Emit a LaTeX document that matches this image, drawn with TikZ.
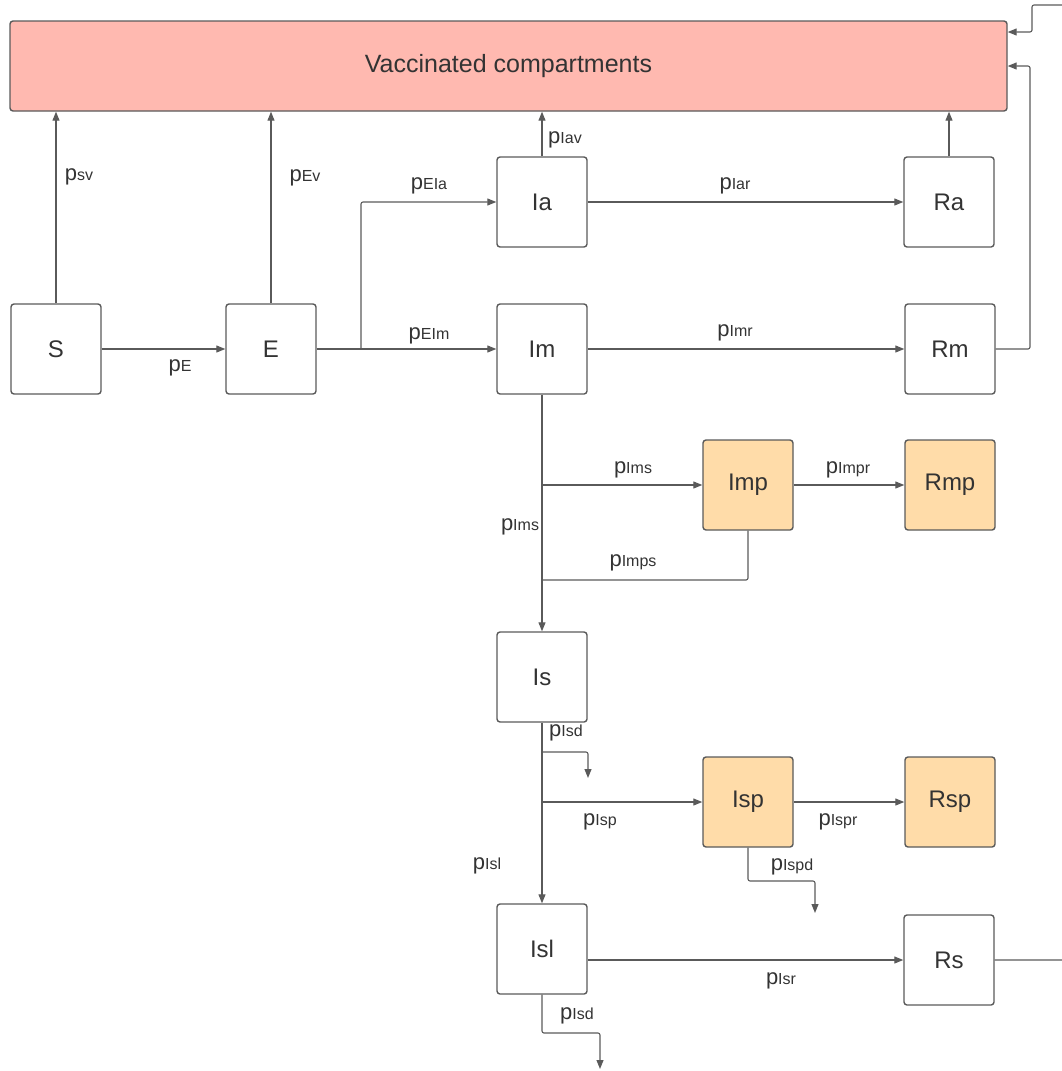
\documentclass[tikz,border=0pt]{standalone}
\usepackage{fontspec}
\setmainfont{Liberation Sans}
\usetikzlibrary{arrows.meta}
\definecolor{vacfill}{HTML}{FFB9B0}
\definecolor{pfill}{HTML}{FFDCA9}
\definecolor{edge}{HTML}{5A5A5A}
\definecolor{ink}{HTML}{333333}
% rate label: p with a small index
\newcommand{\rt}[1]{{\fontsize{22}{22}\selectfont p}{\fontsize{16}{16}\selectfont #1}}
\begin{document}
\begin{tikzpicture}[x=1pt, y=-1pt,
    box/.style={draw=edge, line width=1.4pt, rounded corners=3pt, minimum size=90pt, inner sep=0pt, text=ink, font=\fontsize{24}{24}\selectfont},
    flow/.style={draw=edge, line width=1.1pt, rounded corners=2pt, -{Triangle[length=9pt,width=7pt]}},
    link/.style={draw=edge, line width=1.1pt, rounded corners=2pt},
    rate/.style={text=ink, inner sep=0pt}]
    \useasboundingbox (0,0) rectangle (1061,1071);
      % vaccinated block
      \node[box, fill=vacfill, minimum width=997pt, minimum height=90pt, font=\fontsize{25}{25}\selectfont] (vacc) at (508.5,66) {Vaccinated compartments};
      % plain compartments
      \foreach \name/\x/\y in {S/56/349, E/271/349, Ia/542/202, Im/542/349, Ra/949/202, Rm/950/349, Is/542/677, Isl/542/949, Rs/949/960} {
        \node[box] (\name) at (\x,\y) {\name};
      }
      % compartments in care
      \foreach \name/\x/\y in {Imp/748/485, Rmp/950/485, Isp/748/802, Rsp/950/802} {
        \node[box, fill=pfill] (\name) at (\x,\y) {\name};
      }
      % rate labels
      \foreach \name/\x/\y/\idx in {lsv/79/177/sv, lev/305/178/Ev, le/180/368/E, leim/429/336/EIm, leia/429/186/EIa,
          liav/565/140/Iav, liar/735/186/Iar, limr/735/333/Imr, lims/633/470/Ims, limsv/520/527/Ims,
          limpr/848/470/Impr, limps/633/563/Imps, lisd/566/733/Isd, lisp/600/822/Isp, lispr/838/822/Ispr,
          lisl/487/866/Isl, lispd/792/867/Ispd, lisr/781/981/Isr, lisdb/577/1016/Isd} {
        \node[rate] (\name) at (\x,\y) {\rt{\idx}};
      }
      % branch points
      \coordinate (eb) at (361,349);
      \coordinate (mj) at (542,580);
      % to vaccination
      \draw[flow] (S.north) -- (S.north |- vacc.south);
      \draw[flow] (E.north) -- (E.north |- vacc.south);
      \draw[flow] (Ia.north) -- (Ia.north |- vacc.south);
      \draw[flow] (Ra.north) -- (Ra.north |- vacc.south);
      \draw[flow] (Rm.east) -- (1030,349) |- (vacc.east);
      \draw[flow] (Rs.east) -- (1090,960) -- (1090,5) -- (1032,5) |- ([yshift=34pt]vacc.east);
      % main chain
      \draw[flow] (S.east) -- (E.west);
      \draw[flow] (E.east) -- (Im.west);
      \draw[flow] (eb) |- (Ia.west);
      \draw[flow] (Ia.east) -- (Ra.west);
      \draw[flow] (Im.east) -- (Rm.west);
      \draw[flow] (Im.south) -- (Is.north);
      \draw[flow] (Im.south |- Imp.west) -- (Imp.west);
      \draw[flow] (Imp.east) -- (Rmp.west);
      \draw[link] (Imp.south) |- (mj);
      \draw[flow] (Is.south) -- (Isl.north);
      \draw[flow] (Is.south |- 0,752) -| (588,778);
      \draw[flow] (Is.south |- Isp.west) -- (Isp.west);
      \draw[flow] (Isp.east) -- (Rsp.west);
      \draw[flow] (Isp.south) |- (815,881) -- (815,913);
      \draw[flow] (Isl.south) |- (600,1033) -- (600,1069);
      \draw[flow] (Isl.east |- Rs.west) -- (Rs.west);
    \end{tikzpicture}
\end{document}
